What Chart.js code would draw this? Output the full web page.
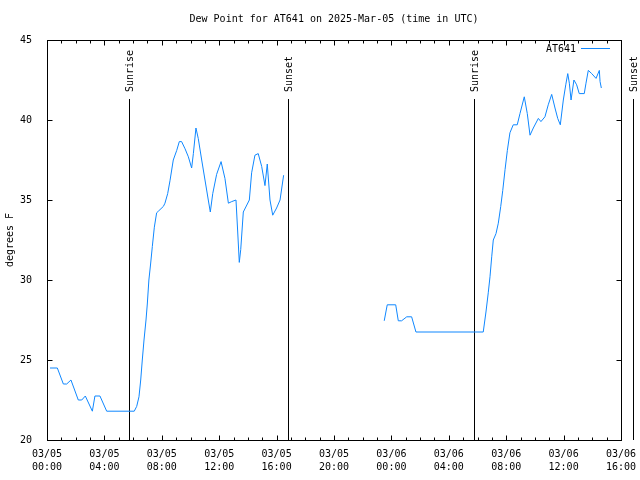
<!DOCTYPE html>
<html>
<head>
<meta charset="utf-8">
<title>Dew Point AT641</title>
<script src="https://cdn.jsdelivr.net/npm/chart.js@4"></script>
<style>
  html, body { margin:0; padding:0; background:#fff; }
  canvas { display:block; }
</style>
</head>
<body>
<canvas id="dewChart" width="640" height="480"></canvas>
<script>
// hours since 03/05 00:00 UTC, null = no report (gap)
const hours = [
  0.21, 0.72, 1.14, 1.37, 1.67, 2.18, 2.42, 2.67, 3.16, 3.34, 3.69, 4.16, 6.08,
  6.25, 6.41, 6.53, 6.64, 6.76, 6.90, 6.99, 7.10, 7.22, 7.34, 7.48, 7.64, 7.76,
  8.11, 8.22, 8.41, 8.57, 8.80, 9.04, 9.22, 9.38, 9.62, 9.85, 10.08, 10.20, 10.38,
  10.54, 10.78, 11.01, 11.24, 11.38, 11.55, 11.82, 12.13, 12.40, 12.64, 12.87,
  13.17, 13.29, 13.40, 13.50, 13.68, 14.10, 14.26, 14.49, 14.72, 14.96, 15.19,
  15.35, 15.54, 15.73, 16.00, 16.24, 16.49,
  20.00,
  23.50, 23.71, 24.30, 24.48, 24.71, 25.07, 25.41, 25.71, 30.40, 30.59, 30.75,
  30.87, 30.99, 31.10, 31.29, 31.45, 31.62, 31.76, 31.92, 32.08, 32.26, 32.49,
  32.77, 32.96, 33.26, 33.47, 33.66, 33.89, 34.24, 34.42, 34.70, 34.93, 35.17,
  35.40, 35.59, 35.77, 35.98, 36.15, 36.29, 36.40, 36.52, 36.72, 36.91, 37.09,
  37.44, 37.56, 37.72, 37.96, 38.26, 38.49, 38.54, 38.63
];
const dewF = [
  24.5, 24.5, 23.5, 23.5, 23.75, 22.5, 22.5, 22.75, 21.8, 22.75, 22.75, 21.8, 21.8,
  22.1, 22.7, 23.75, 25.0, 26.25, 27.5, 28.5, 30.0, 31.0, 32.1, 33.3, 34.2, 34.3,
  34.6, 34.8, 35.4, 36.2, 37.5, 38.1, 38.65, 38.65, 38.2, 37.7, 37.0, 37.9, 39.5,
  38.85, 37.5, 36.25, 35.0, 34.25, 35.4, 36.6, 37.4, 36.35, 34.8, 34.9,
  35.0, 33.0, 31.1, 31.9, 34.25, 35.0, 36.7, 37.8, 37.9, 37.1, 35.9,
  37.25, 35.0, 34.05, 34.5, 35.0, 36.55,
  null,
  27.45, 28.45, 28.45, 27.45, 27.45, 27.7, 27.7, 26.75, 26.75, 28.0, 29.2,
  30.2, 31.45, 32.5, 32.9, 33.55, 34.6, 35.6, 36.9, 38.1, 39.2, 39.7,
  39.7, 40.4, 41.45, 40.4, 39.05, 39.5, 40.1, 39.9, 40.2, 40.95, 41.6,
  40.75, 40.1, 39.7, 41.25, 42.2, 42.9, 42.3, 41.25, 42.5, 42.2, 41.65,
  41.65, 42.3, 43.1, 42.9, 42.6, 43.1, 42.4, 42.0
];
const sunTimes = [5.73, 16.82, 29.78, 40.86];
const sunLabels = ['Sunrise', 'Sunset', 'Sunrise', 'Sunset'];
const dayLabels = ['03/05', '03/06'];
const yTicks = [20, 25, 30, 35, 40, 45];

const FONT = 'DejaVu Sans Mono';
const LINE = '#0f87ff';

function pad2(n){ return (n < 10 ? '0' : '') + n; }

const framePlugin = {
  id: 'frame',
  beforeDatasetsDraw(chart){
    const ctx = chart.ctx, a = chart.chartArea, xs = chart.scales.x;
    ctx.save();
    ctx.strokeStyle = '#000';
    ctx.lineWidth = 1;
    ctx.fillStyle = '#000';
    ctx.font = '10px "' + FONT + '"';
    sunTimes.forEach((t, i) => {
      const px = Math.round(xs.getPixelForValue(t)) + 0.5;
      ctx.beginPath();
      ctx.moveTo(px, 99);
      ctx.lineTo(px, a.bottom);
      ctx.stroke();
      ctx.save();
      ctx.translate(px + 1, 92);
      ctx.rotate(-Math.PI / 2);
      ctx.textAlign = 'left';
      ctx.textBaseline = 'middle';
      ctx.fillText(sunLabels[i], 0, 0);
      ctx.restore();
    });
    ctx.restore();
  },
  afterDraw(chart){
    const ctx = chart.ctx, a = chart.chartArea;
    const xs = chart.scales.x, ys = chart.scales.y;
    ctx.save();
    ctx.strokeStyle = '#000';
    ctx.lineWidth = 1;
    const l = Math.round(a.left) + 0.5, r = Math.round(a.right) + 0.5;
    const t = Math.round(a.top) + 0.5, b = Math.round(a.bottom) + 0.5;
    ctx.strokeRect(l, t, r - l, b - t);
    ctx.beginPath();
    for (let h = 0; h <= 40; h++){
      const px = Math.round(xs.getPixelForValue(h)) + 0.5;
      const len = h % 4 === 0 ? 5 : 3;
      ctx.moveTo(px, b); ctx.lineTo(px, b - len);
      ctx.moveTo(px, t); ctx.lineTo(px, t + len);
    }
    yTicks.forEach(v => {
      const py = Math.round(ys.getPixelForValue(v)) + 0.5;
      ctx.moveTo(l, py); ctx.lineTo(l + 5, py);
      ctx.moveTo(r, py); ctx.lineTo(r - 5, py);
    });
    ctx.stroke();

    // legend, top right inside the plot
    const ds = chart.data.datasets[0];
    ctx.font = '10px "' + FONT + '"';
    ctx.fillStyle = '#000';
    ctx.textAlign = 'right';
    ctx.textBaseline = 'middle';
    ctx.fillText(ds.label, 576, 49);
    ctx.strokeStyle = ds.borderColor;
    ctx.beginPath();
    ctx.moveTo(581, 48.5);
    ctx.lineTo(610, 48.5);
    ctx.stroke();
    ctx.restore();
  }
};

const points = hours.map((h, i) => ({ x: h, y: dewF[i] }));

new Chart(document.getElementById('dewChart'), {
  type: 'line',
  data: {
    datasets: [{
      label: 'AT641',
      data: points,
      borderColor: LINE,
      borderWidth: 1,
      pointRadius: 0,
      tension: 0,
      spanGaps: false,
      fill: false
    }]
  },
  options: {
    responsive: false,
    animation: false,
    devicePixelRatio: 1,
    layout: { padding: { left: 0, right: 19, top: 0, bottom: 0 } },
    plugins: {
      legend: { display: false },
      tooltip: { enabled: false },
      title: {
        display: true,
        fullSize: false,
        text: 'Dew Point for AT641 on 2025-Mar-05 (time in UTC)',
        color: '#000',
        font: { family: FONT, size: 10, weight: 'normal', lineHeight: 1.2 },
        padding: { top: 13, bottom: 15 }
      }
    },
    scales: {
      x: {
        type: 'linear',
        min: 0,
        max: 40,
        grid: { display: false },
        border: { display: false },
        afterFit: s => { s.height = 40; },
        ticks: {
          stepSize: 4,
          autoSkip: false,
          maxRotation: 0,
          padding: 0,
          color: '#000',
          font: { family: FONT, size: 10, lineHeight: 1.27 },
          callback: v => [dayLabels[Math.floor(v / 24)] || dayLabels[1], pad2(v % 24) + ':00']
        }
      },
      y: {
        min: 20,
        max: 45,
        grid: { display: false },
        border: { display: false },
        afterFit: s => { s.width = 47; },
        ticks: {
          stepSize: 5,
          padding: 7,
          color: '#000',
          font: { family: FONT, size: 10 }
        },
        title: {
          display: true,
          text: 'degrees F',
          color: '#000',
          font: { family: FONT, size: 10 },
          padding: { top: 4, bottom: 0 }
        }
      }
    }
  },
  plugins: [framePlugin]
});
</script>
</body>
</html>
